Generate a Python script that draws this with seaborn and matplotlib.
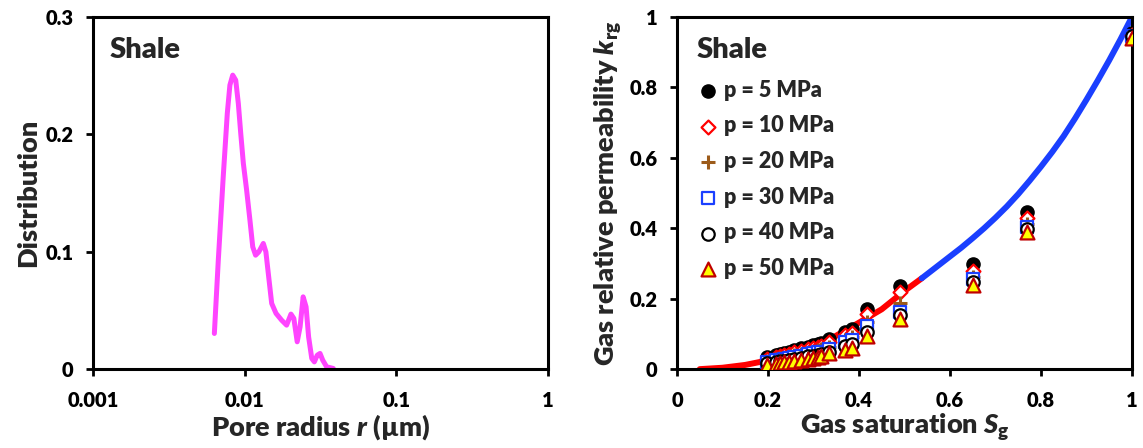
import matplotlib
matplotlib.use("Agg")
import matplotlib.pyplot as plt
import seaborn as sns

# Left panel: pore size distribution
pore_r = [0.00631, 0.00670, 0.00722, 0.00768, 0.00799, 0.00834, 0.00873, 0.00908,
          0.00942, 0.00980, 0.0103, 0.01083, 0.0113, 0.0118, 0.0124, 0.01327,
          0.0138, 0.0144, 0.01507, 0.0161, 0.01753, 0.0189, 0.0202, 0.0211,
          0.0222, 0.0232, 0.0243, 0.0254, 0.0264, 0.0277, 0.0288, 0.0301,
          0.0314, 0.0327, 0.0347, 0.0384]
pore_dist = [0.0304, 0.0929, 0.1639, 0.2179, 0.2420, 0.2505, 0.2462, 0.2264,
             0.2008, 0.1753, 0.1525, 0.1270, 0.1042, 0.0971, 0.0999, 0.1071,
             0.0999, 0.0786, 0.0560, 0.0475, 0.0417, 0.0375, 0.0469, 0.0432,
             0.0233, 0.0361, 0.0616, 0.0531, 0.0275, 0.0091, 0.0062, 0.0119,
             0.0134, 0.0077, 0.0020, 0.0006]

# Right panel: model curve (red part, blue part)
sg_red = [0.05, 0.10, 0.15, 0.20, 0.25, 0.30, 0.35, 0.40, 0.45, 0.50, 0.538]
krg_red = [0.0, 0.004, 0.012, 0.025, 0.042, 0.063, 0.095, 0.132, 0.170, 0.222, 0.258]
sg_blue = [0.538, 0.575, 0.60, 0.625, 0.65, 0.675, 0.70, 0.725, 0.75, 0.775, 0.80,
           0.825, 0.85, 0.875, 0.90, 0.925, 0.95, 0.975, 1.0]
krg_blue = [0.258, 0.295, 0.320, 0.345, 0.372, 0.400, 0.430, 0.462, 0.497, 0.535, 0.575,
            0.617, 0.662, 0.712, 0.765, 0.820, 0.877, 0.937, 1.0]

# Right panel: simulated points at each pressure
sg_pts = [0.197, 0.217, 0.226, 0.235, 0.246, 0.257, 0.272, 0.287, 0.298, 0.309,
          0.316, 0.334, 0.369, 0.385, 0.418, 0.491, 0.651, 0.769, 1.0]
krg_5 = [0.034, 0.040, 0.043, 0.046, 0.050, 0.054, 0.059, 0.064, 0.068, 0.072,
         0.075, 0.085, 0.105, 0.113, 0.170, 0.236, 0.298, 0.446, 0.955]
krg_10 = [0.030, 0.035, 0.038, 0.041, 0.044, 0.048, 0.052, 0.057, 0.060, 0.064,
          0.067, 0.076, 0.097, 0.104, 0.157, 0.218, 0.280, 0.430, 0.950]
krg_20 = [0.024, 0.028, 0.031, 0.033, 0.036, 0.039, 0.043, 0.047, 0.050, 0.053,
          0.056, 0.064, 0.083, 0.090, 0.134, 0.187, 0.262, 0.412, 0.948]
krg_30 = [0.021, 0.025, 0.027, 0.029, 0.032, 0.035, 0.038, 0.042, 0.045, 0.048,
          0.050, 0.058, 0.077, 0.083, 0.122, 0.163, 0.256, 0.405, 0.946]
krg_40 = [0.017, 0.020, 0.022, 0.024, 0.027, 0.029, 0.032, 0.036, 0.038, 0.041,
          0.043, 0.050, 0.066, 0.071, 0.106, 0.153, 0.248, 0.398, 0.945]
krg_50 = [0.012, 0.015, 0.017, 0.019, 0.021, 0.023, 0.026, 0.029, 0.032, 0.034,
          0.036, 0.045, 0.054, 0.060, 0.094, 0.142, 0.238, 0.390, 0.940]
pressure_labels = ["p = 5 MPa", "p = 10 MPa", "p = 20 MPa", "p = 30 MPa", "p = 40 MPa", "p = 50 MPa"]

sns.set_theme(style="ticks")
plt.rcParams["font.family"] = ["Lato", "DejaVu Sans"]
plt.rcParams["font.weight"] = "heavy"
plt.rcParams["mathtext.fontset"] = "custom"
plt.rcParams["mathtext.rm"] = "Lato:heavy"
plt.rcParams["mathtext.it"] = "Lato:heavy:italic"
plt.rcParams["mathtext.bf"] = "Lato:heavy"

W = "heavy"
fig = plt.figure(figsize=(11.43, 4.48), dpi=100)
ax1 = fig.add_axes([0.0814, 0.176, 0.398, 0.786])
ax2 = fig.add_axes([0.5923, 0.176, 0.398, 0.786])

# ---- left panel
sns.lineplot(x=pore_r, y=pore_dist, ax=ax1, color="#FF44FF", linewidth=3.6, sort=False)
ax1.set_xscale("log")
ax1.set_xlim(0.001, 1)
ax1.set_ylim(0, 0.3)
ax1.set_xticks([0.001, 0.01, 0.1, 1])
ax1.set_xticklabels(["0.001", "0.01", "0.1", "1"])
ax1.minorticks_off()
ax1.set_yticks([0, 0.1, 0.2, 0.3])
ax1.set_yticklabels(["0", "0.1", "0.2", "0.3"])
ax1.set_xlabel(r"Pore radius $r$ (µm)", fontsize=19.5, fontweight=W, labelpad=1)
ax1.set_ylabel("Distribution", fontsize=19.5, fontweight=W, labelpad=4)
ax1.text(0.037, 0.905, "Shale", transform=ax1.transAxes, fontsize=21,
         fontweight=W, va="center", ha="left")

# ---- right panel
sns.lineplot(x=sg_red, y=krg_red, ax=ax2, color="#FF0000", linewidth=4.3, zorder=2)
sns.lineplot(x=sg_blue, y=krg_blue, ax=ax2, color="#1A3FFF", linewidth=4.3, zorder=2)

series = [krg_5, krg_10, krg_20, krg_30, krg_40, krg_50]
styles = [
    dict(marker="o", color="black", edgecolor="black", s=90, linewidth=1),
    dict(marker="D", color="white", edgecolor="#FF0000", s=50, linewidth=1.6),
    dict(marker="+", color="#9C5B1A", s=100, linewidth=2.2),
    dict(marker="s", color="white", edgecolor="#1A3FFF", s=80, linewidth=1.6),
    dict(marker="o", color="white", edgecolor="black", s=80, linewidth=1.6),
    dict(marker="^", color="#FFFF00", edgecolor="#C00000", s=100, linewidth=1.6),
]
for vals, lab, st in zip(series, pressure_labels, styles):
    sns.scatterplot(x=sg_pts, y=vals, ax=ax2, label=lab, zorder=3, **st)

ax2.set_xlim(0, 1)
ax2.set_ylim(0, 1)
ax2.set_xticks([0, 0.2, 0.4, 0.6, 0.8, 1])
ax2.set_xticklabels(["0", "0.2", "0.4", "0.6", "0.8", "1"])
ax2.set_yticks([0, 0.2, 0.4, 0.6, 0.8, 1])
ax2.set_yticklabels(["0", "0.2", "0.4", "0.6", "0.8", "1"])
ax2.set_xlabel(r"Gas saturation $S_{\mathrm{g}}$", fontsize=19.5, fontweight=W, labelpad=1)
ax2.set_ylabel(r"Gas relative permeability $k_{\mathrm{rg}}$", fontsize=19.5,
               fontweight=W, labelpad=4)
ax2.text(0.044, 0.905, "Shale", transform=ax2.transAxes, fontsize=21,
         fontweight=W, va="center", ha="left")
leg = ax2.legend(loc="upper left", bbox_to_anchor=(0.01, 0.865), frameon=False,
                 fontsize=15.5, labelspacing=0.68, handletextpad=0.15,
                 handlelength=1.1, borderaxespad=0.3)
for t in leg.get_texts():
    t.set_fontweight(W)

for ax in (ax1, ax2):
    ax.tick_params(direction="out", length=5, width=2, labelsize=14.5, colors="black")
    ax.tick_params(axis="x", pad=11)
    ax.tick_params(axis="y", pad=9)
    for side in ["left", "right", "top", "bottom"]:
        ax.spines[side].set_visible(True)
        ax.spines[side].set_linewidth(2.2)
        ax.spines[side].set_color("black")
    for lbl in ax.get_xticklabels() + ax.get_yticklabels():
        lbl.set_fontweight(W)

fig.savefig("out.png", dpi=100)
